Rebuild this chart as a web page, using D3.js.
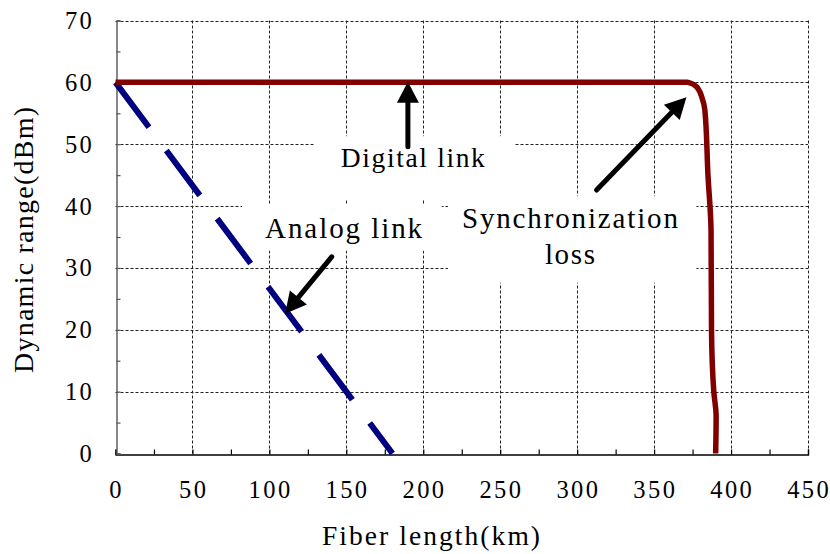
<!DOCTYPE html>
<html>
<head>
<meta charset="utf-8">
<script src="https://cdn.jsdelivr.net/npm/d3@7"></script>
</head>
<body style="margin:0">
<svg id="fig" width="830" height="554" style="display:block"></svg>
<script>
// Fiber length (km) vs dynamic range (dBm)
const xTicks = [0, 50, 100, 150, 200, 250, 300, 350, 400, 450];
const yTicks = [0, 10, 20, 30, 40, 50, 60, 70];

// Analog link: falls linearly with fibre length
const analogKm = [0, 30, 60, 90, 120, 150, 180];
const analogDb = [60, 50, 40, 30, 20, 10, 0];

// Digital link: flat until synchronization is lost
const digitalKm = [0, 372, 376, 379, 381, 383, 385, 387, 387.3, 388.8, 390.3, 390];
const digitalDb = [60, 60, 59.6, 58.8, 57.6, 55.5, 45, 36, 20, 10, 6, 0];

const FONT = "Liberation Serif";
const svg = d3.select("#fig");

const x = d3.scaleLinear().domain([0, 450]).range([115.5, 808]);
const y = d3.scaleLinear().domain([0, 70]).range([453.5, 20.5]);

// serif text helper
function serif(sel, size) {
  return sel.attr("font-family", FONT).attr("font-size", size)
    .style("font-family", FONT, "important");
}

// dotted grid
const grid = svg.append("g").attr("stroke", "#222").attr("stroke-width", 1)
  .attr("stroke-dasharray", "3,2").attr("fill", "none");
grid.selectAll("line.h").data(yTicks.filter(d => d > 0)).join("line")
  .attr("class", "h")
  .attr("x1", x(0)).attr("x2", x(450))
  .attr("y1", d => Math.round(y(d)) + 0.5).attr("y2", d => Math.round(y(d)) + 0.5);
grid.selectAll("line.v").data(xTicks.filter(d => d > 0)).join("line")
  .attr("class", "v")
  .attr("y1", y(0)).attr("y2", y(70))
  .attr("x1", d => Math.round(x(d)) + 0.5).attr("x2", d => Math.round(x(d)) + 0.5);

// white label boxes sitting over the grid (data units: [km0, db0, km1, db1])
const boxes = [
  [129.5, 51.3, 259.5, 41.0],   // Digital link
  [82.2, 40.3, 212.0, 32.8],    // Analog link
  [216.0, 41.6, 377.5, 27.6]    // Synchronization loss
];
svg.append("g").selectAll("rect").data(boxes).join("rect")
  .attr("x", d => x(d[0])).attr("y", d => y(d[1]))
  .attr("width", d => x(d[2]) - x(d[0])).attr("height", d => y(d[3]) - y(d[1]))
  .attr("fill", "#fff");

// axes
const xAxis = d3.axisBottom(x).tickValues(d3.range(0, 451, 25)).tickSize(-5).tickFormat("");
const yAxis = d3.axisLeft(y).tickValues(d3.range(0, 71, 5)).tickSize(-4).tickFormat("");
const gx = svg.append("g").attr("transform", `translate(0,${Math.round(y(0)) + 0.5})`).call(xAxis);
const gy = svg.append("g").attr("transform", `translate(${Math.round(x(0)) + 0.5},0)`).call(yAxis);
gx.select(".domain").attr("stroke", "#000").attr("stroke-width", 1.3);
gx.selectAll(".tick line").attr("stroke", "#000").attr("stroke-width", 1.2);
gy.select(".domain").attr("stroke", "#555").attr("stroke-width", 1.4);
gy.selectAll(".tick line").attr("stroke", "#555").attr("stroke-width", 1.2);

// tick labels
serif(svg.append("g").selectAll("text").data(xTicks).join("text"), 24.5)
  .attr("x", d => x(d) + 1.2).attr("y", 498)
  .attr("text-anchor", "middle")
  .attr("letter-spacing", 2.4)
  .text(d => d);
serif(svg.append("g").selectAll("text").data(yTicks).join("text"), 24.5)
  .attr("x", 94.2).attr("y", d => y(d) + 8.5)
  .attr("text-anchor", "end")
  .attr("letter-spacing", 2.4)
  .text(d => d);

// axis titles
serif(svg.append("text"), 27.5)
  .attr("x", 431).attr("y", 545).attr("text-anchor", "middle")
  .attr("textLength", 218).attr("lengthAdjust", "spacing")
  .text("Fiber length(km)");
serif(svg.append("text"), 28)
  .attr("transform", "translate(33,240) rotate(-90)")
  .attr("text-anchor", "middle")
  .attr("textLength", 266).attr("lengthAdjust", "spacing")
  .text("Dynamic range(dBm)");

// series
const line = d3.line().x(d => x(d[0])).y(d => y(d[1]));
svg.append("path")
  .datum(analogKm.map((k, i) => [k, analogDb[i]]))
  .attr("d", line).attr("fill", "none")
  .attr("stroke", "#000080").attr("stroke-width", 6)
  .attr("stroke-dasharray", "56,29");
svg.append("path")
  .datum(digitalKm.map((k, i) => [k, digitalDb[i]]))
  .attr("d", line.curve(d3.curveMonotoneY))
  .attr("fill", "none")
  .attr("stroke", "#800000").attr("stroke-width", 5.5)
  .attr("stroke-linejoin", "round");

// annotations: arrows (data units) and labels
const arrows = [
  { from: [190, 49.6], to: [190, 60.1] },
  { from: [140.5, 31.8], to: [110.2, 22.6] },
  { from: [312.6, 42.6], to: [371, 57.6] }
];
const ag = svg.append("g");
arrows.forEach(a => {
  const x0 = x(a.from[0]), y0 = y(a.from[1]), x1 = x(a.to[0]), y1 = y(a.to[1]);
  const ang = Math.atan2(y1 - y0, x1 - x0);
  const hl = 21, hw = 11;
  const bx = x1 - hl * Math.cos(ang), by = y1 - hl * Math.sin(ang);
  ag.append("line").attr("x1", x0).attr("y1", y0).attr("x2", bx).attr("y2", by)
    .attr("stroke", "#000").attr("stroke-width", 5).attr("stroke-linecap", "round");
  const px = -Math.sin(ang), py = Math.cos(ang);
  ag.append("path")
    .attr("d", `M${x1},${y1}L${bx + px * hw},${by + py * hw}L${bx - px * hw},${by - py * hw}Z`)
    .attr("fill", "#000");
});

const labels = [
  { text: "Digital link", km: 193.2, db: 46.3, size: 27.5, len: 144 },
  { text: "Analog link", km: 148.2, db: 34.8, size: 29, len: 157 },
  { text: "Synchronization", km: 295.3, db: 36.4, size: 29, len: 216 },
  { text: "loss", km: 295.3, db: 30.7, size: 29, len: 50 }
];
labels.forEach(d => {
  serif(svg.append("text"), d.size)
    .attr("x", x(d.km)).attr("y", y(d.db))
    .attr("text-anchor", "middle")
    .attr("textLength", d.len).attr("lengthAdjust", "spacing")
    .text(d.text);
});
</script>
</body>
</html>
